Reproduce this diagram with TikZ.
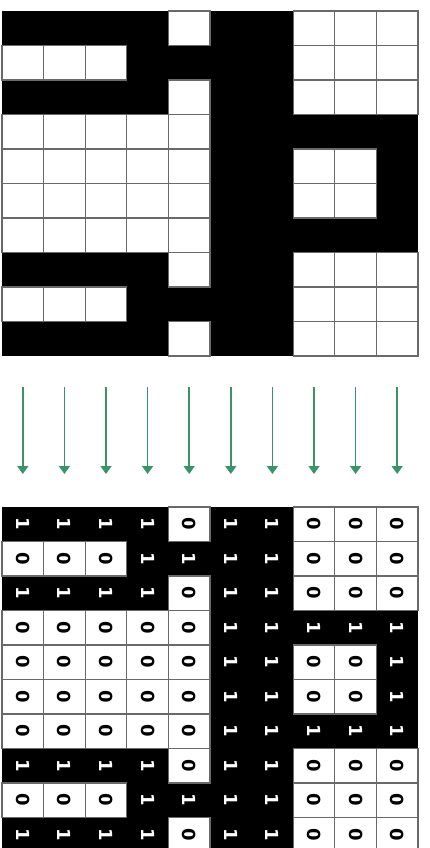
\documentclass[tikz,border=0pt]{standalone}
\usepackage{fontspec}
\setmainfont{DejaVu Sans}
\usepackage{xcolor}
\usetikzlibrary{arrows.meta}

\definecolor{gridgray}{RGB}{105,105,105}
\definecolor{flowgreen}{RGB}{58,148,106}

% rows of the image, 1 = black
\newcommand{\bitrows}{{1,1,1,1,0,1,1,0,0,0},{0,0,0,1,1,1,1,0,0,0},{1,1,1,1,0,1,1,0,0,0},%
  {0,0,0,0,0,1,1,1,1,1},{0,0,0,0,0,1,1,0,0,1},{0,0,0,0,0,1,1,0,0,1},%
  {0,0,0,0,0,1,1,1,1,1},{1,1,1,1,0,1,1,0,0,0},{0,0,0,1,1,1,1,0,0,0},{1,1,1,1,0,1,1,0,0,0}}

\begin{document}
\begin{tikzpicture}[x=1pt,y=-1pt,
        whitecell/.style={draw=gridgray,line width=1.1pt,fill=white},
        bitcell/.style={rotate=-90,minimum width=34.5pt,minimum height=41.6pt,
            inner sep=0pt,font=\fontsize{18}{18}\selectfont\bfseries},
        flow/.style={flowgreen,line width=1.6pt,-{Triangle[width=11pt,length=8pt]}}]
        \useasboundingbox[fill=white] (0,0) rectangle (429,848);

        % Top grid
        \fill[black] (2,11) rectangle (418,356);
        \foreach \bits [count=\r from 0] in \bitrows {
            \foreach \b [count=\c from 0] in \bits {
                \ifnum\b=0
                    \draw[whitecell] (2+41.6*\c,11+34.5*\r) rectangle ++(41.6,34.5);
                \fi
            }
        }

        % Arrows
        \foreach \c in {0,...,9} {
            \coordinate (src-\c) at (22.8+41.6*\c,387);
            \coordinate (dst-\c) at (22.8+41.6*\c,474);
            \draw[flow] (src-\c) -- (dst-\c);
        }

        % Bottom grid with bits
        \fill[black] (2,507) rectangle (418,852);
        \foreach \bits [count=\r from 0] in \bitrows {
            \foreach \b [count=\c from 0] in \bits {
                \ifnum\b=0
                    \node[bitcell,whitecell,text=black] (out-\r-\c) at (22.8+41.6*\c,524.25+34.5*\r) {0};
                \else
                    \node[bitcell,text=white] (out-\r-\c) at (22.8+41.6*\c,524.25+34.5*\r) {1};
                \fi
            }
        }
\end{tikzpicture}
\end{document}
